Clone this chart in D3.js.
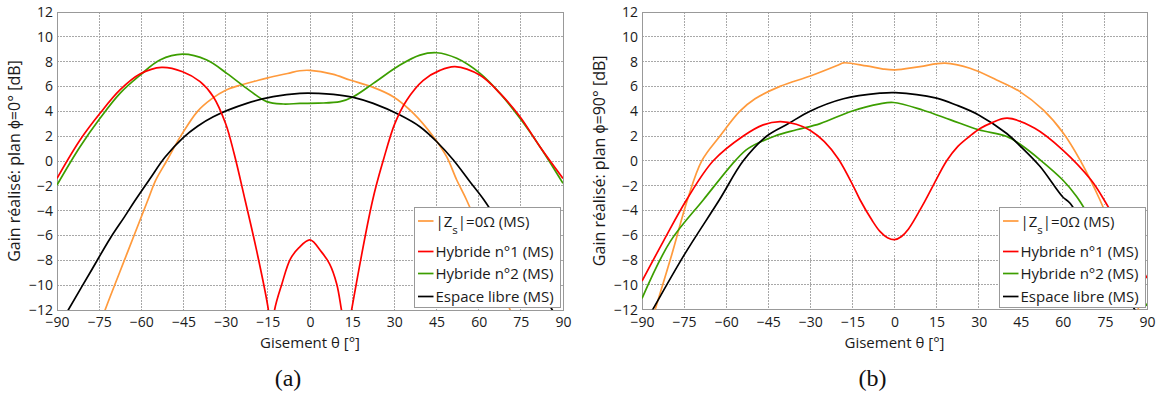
<!DOCTYPE html>
<html><head><meta charset="utf-8">
<script src="https://cdn.jsdelivr.net/npm/d3@7/dist/d3.min.js"></script>
<style>body{margin:0;background:#fff}svg{display:block}text{font-family:"Open Sans",sans-serif}</style>
</head><body><svg id="c" width="1162" height="396"></svg>
<script>
// ---- ticks ----
const xTicks = [-90,-75,-60,-45,-30,-15,0,15,30,45,60,75,90];
const yTicks = [-12,-10,-8,-6,-4,-2,0,2,4,6,8,10,12];
const seriesNames = ["|Zs|=0Ω (MS)","Hybride n°1 (MS)","Hybride n°2 (MS)","Espace libre (MS)"];
const seriesColors = ["#ff9a3c","#ff0000","#3c9e00","#000000"];

// ---- panel (a) : plan phi = 0° ----
const a_zs_theta = [-76,-72.9,-65,-57.6,-55,-51,-46,-40,-35,-30,-25,-20,-15,-8,-3.6,0,8,14.2,22.5,29.6,36.8,43.9,48.6,52.2,55.7,60,65,71.2,75];
const a_zs_gain  = [-14,-12,-7.4,-3.1,-1.6,0,2,4,5,5.7,6.1,6.4,6.7,7.05,7.27,7.3,7.0,6.52,5.93,5.18,3.84,1.96,0.35,-1.53,-3.14,-5.4,-8.4,-12,-14.3];
const a_h1_theta = [-90,-81.8,-74.7,-67.6,-60.5,-52.8,-45.3,-39.1,-34.4,-30,-27,-23.1,-19,-14.8,-13.7,-12.6,-10,-7,-4,0,4,7,9.5,11.2,13,14.8,22.3,26.1,30.2,34.4,40.3,46.2,51.6,60.5,67.6,74.7,81.8,90];
const a_h1_gain  = [-1.4,1.69,3.84,5.72,7.0,7.54,7.19,6.39,5.18,3.0,0.6,-3.14,-7.2,-12,-14.5,-12,-9.9,-7.9,-7.0,-6.36,-7.3,-8.3,-9.9,-12,-14.5,-12,-3.14,0.08,3.03,4.9,6.5,7.3,7.6,6.9,5.45,3.57,1.15,-1.4];
const a_h2_theta = [-90,-81.8,-74.7,-67.6,-60.5,-53.4,-45.3,-36.7,-29.6,-22.5,-15.4,-9.5,-3.6,3,10.7,15.4,22.5,32,39.1,45.1,52.2,60.5,67.6,74.7,81.8,90];
const a_h2_gain  = [-1.93,1.15,3.44,5.45,6.9,8.13,8.6,8.13,7.06,5.85,4.78,4.59,4.64,4.66,4.78,5.18,6.25,7.73,8.53,8.72,8.27,7.06,5.45,3.44,1.15,-1.8];
const a_el_theta = [-90,-86,-78,-71,-66,-62.3,-57,-51.6,-45,-40,-34.4,-22.5,-13.1,-3.6,3,8.3,15.4,22.5,32,39.1,45.1,51,56.9,61.9,70,78,85.4,90];
const a_el_gain  = [-13.6,-12,-8.9,-6.2,-4.5,-3.2,-1.45,0.3,1.9,2.8,3.57,4.64,5.18,5.45,5.45,5.37,5.13,4.64,3.7,2.76,1.55,0.08,-1.67,-3.14,-6.0,-8.9,-11.7,-13.4];

// ---- panel (b) : plan phi = 90° ----
const b_zs_theta = [-90,-85.3,-79.4,-73.8,-68.7,-62.2,-55.1,-49.7,-40.8,-30,-20,-18.2,-10,-4,0.2,9.1,18,26.9,36.4,44.7,53,60.2,66.1,73.2,78,83,87,90];
const b_zs_gain  = [-15.5,-12,-7.57,-3.14,0,2,4,5,6,6.84,7.73,7.9,7.65,7.4,7.33,7.6,7.87,7.46,6.52,5.58,4.1,2.23,0.08,-3.14,-5.8,-9,-12,-14];
const b_h1_theta = [-90,-82.4,-74.1,-64.6,-53.9,-46.8,-40.8,-35,-30,-25,-20,-15,-12.3,-8,-5.2,-2.5,0,2.5,5,10,14,18.6,22.5,26.9,30.5,34.6,40.2,50,59.9,70,75.1,82,90];
const b_h1_gain  = [-9.7,-6.5,-3.14,0,2,2.9,3.16,2.95,2.45,1.55,0.15,-1.9,-3.14,-4.8,-5.69,-6.2,-6.36,-6.1,-5.5,-3.6,-1.9,0,1.15,2.0,2.6,3.06,3.44,2.63,0.89,-1.53,-3.3,-6.1,-9.45];
const b_h2_theta = [-90,-79.9,-68.1,-56.8,-52.1,-42.6,-34.9,-26.5,-15.3,-5.2,-0.4,10,20,30,40,45,51.9,59.9,64.9,67.3,75,82,90];
const b_h2_gain  = [-11.1,-6.5,-3.14,0,1,2,2.5,3,4,4.59,4.7,4.1,3.3,2.5,1.96,1.29,0.08,-1.53,-2.87,-3.7,-6.2,-8.7,-11.7];
const b_el_theta = [-90,-86.2,-74.9,-62.4,-53.9,-45.5,-37.8,-30.1,-18.2,-5.2,0.2,15,22,30,40,45,51.9,59.9,62.5,70,78,85.1,90];
const b_el_gain  = [-13.5,-12,-7.57,-3.14,0,2,3,4,5,5.45,5.5,5.05,4.5,3.7,2.2,1.15,-0.46,-2.9,-3.4,-6.1,-9.0,-11.8,-13.6];

const panels = [
  {id:"a", left:57, right:563, top:12, bottom:310, ylabel:"Gain réalisé: plan ϕ=0° [dB]", caption:"(a)",
   series:[[a_zs_theta,a_zs_gain],[a_h1_theta,a_h1_gain],[a_h2_theta,a_h2_gain],[a_el_theta,a_el_gain]],
   legend:{x0:414.5,x1:560,y0:207,y1:307}},
  {id:"b", left:642, right:1147, top:12, bottom:309.6, ylabel:"Gain réalisé: plan ϕ=90° [dB]", caption:"(b)",
   series:[[b_zs_theta,b_zs_gain],[b_h1_theta,b_h1_gain],[b_h2_theta,b_h2_gain],[b_el_theta,b_el_gain]],
   legend:{x0:999.5,x1:1145.5,y0:207,y1:307}}
];

const svg = d3.select("#c");
panels.forEach(p => {
  const x = d3.scaleLinear().domain([-90,90]).range([p.left,p.right]);
  const y = d3.scaleLinear().domain([-12,12]).range([p.bottom,p.top]);
  const g = svg.append("g");
  // grid
  g.append("g").selectAll("line").data(xTicks.slice(1,-1)).join("line")
    .attr("x1",d=>x(d)).attr("x2",d=>x(d)).attr("y1",p.top).attr("y2",p.bottom)
    .attr("stroke","#a8a8a8").attr("stroke-width",1).attr("stroke-dasharray","1.5,1.5").attr("shape-rendering","crispEdges");
  g.append("g").selectAll("line").data(yTicks.slice(1,-1)).join("line")
    .attr("y1",d=>y(d)).attr("y2",d=>y(d)).attr("x1",p.left).attr("x2",p.right)
    .attr("stroke","#a8a8a8").attr("stroke-width",1).attr("stroke-dasharray","1.5,1.5").attr("shape-rendering","crispEdges");
  // axes
  const xa = g.append("g").attr("transform",`translate(0,${p.bottom})`)
    .call(d3.axisBottom(x).tickValues(xTicks).tickSize(0).tickPadding(7).tickFormat(d3.format("d")));
  const ya = g.append("g").attr("transform",`translate(${p.left},0)`)
    .call(d3.axisLeft(y).tickValues(yTicks).tickSize(0).tickPadding(4).tickFormat(d3.format("d")));
  [xa,ya].forEach(a=>{a.select(".domain").remove(); a.selectAll("text").attr("font-size",14).attr("fill","#1a1a1a").style("font-family","'Open Sans',sans-serif");});
  xa.selectAll("text").attr("dy","0.71em");
  // frame
  g.append("rect").attr("x",p.left).attr("y",p.top).attr("width",p.right-p.left).attr("height",p.bottom-p.top)
    .attr("fill","none").attr("stroke","#999").attr("stroke-width",1).attr("shape-rendering","crispEdges");
  // clip
  svg.append("clipPath").attr("id","clip"+p.id).append("rect")
    .attr("x",p.left).attr("y",p.top).attr("width",p.right-p.left).attr("height",p.bottom-p.top);
  const line = d3.line().x(d=>x(d[0])).y(d=>y(d[1])).curve(d3.curveCatmullRom.alpha(0.5));
  const cg = g.append("g").attr("clip-path",`url(#clip${p.id})`);
  [0,2,3,1].forEach(i=>{
    const [th,gn] = p.series[i];
    cg.append("path").datum(th.map((t,k)=>[t,gn[k]])).attr("d",line)
      .attr("fill","none").attr("stroke",seriesColors[i]).attr("stroke-width",1.7).attr("stroke-linejoin","round");
  });
  // labels
  g.append("text").attr("x",(p.left+p.right)/2).attr("y",347.5).attr("text-anchor","middle")
    .attr("font-size",15).attr("fill","#1a1a1a").text("Gisement θ [°]");
  g.append("text").attr("transform",`translate(${p.left-37},${(p.top+p.bottom)/2}) rotate(-90)`)
    .attr("text-anchor","middle").attr("font-size",16).attr("fill","#1a1a1a").text(p.ylabel);
  g.append("text").attr("x",(p.left+p.right)/2-22).attr("y",386).attr("text-anchor","middle")
    .attr("font-size",24).style("font-family","'Liberation Serif','DejaVu Serif',serif").attr("fill","#111").text(p.caption);
  // legend
  const L = p.legend;
  g.append("rect").attr("x",L.x0).attr("y",L.y0).attr("width",L.x1-L.x0).attr("height",L.y1-L.y0)
    .attr("fill","#fff").attr("stroke","#999").attr("stroke-width",1).attr("shape-rendering","crispEdges");
  const rows = [221,251.5,273.5,296.5];
  seriesNames.forEach((nm,i)=>{
    g.append("line").attr("x1",L.x0+3.5).attr("x2",L.x0+19).attr("y1",rows[i]).attr("y2",rows[i])
      .attr("stroke",seriesColors[i]).attr("stroke-width",1.7);
    const t = g.append("text").attr("x",L.x0+21).attr("y",rows[i]+5.5).attr("font-size",15).attr("fill","#1a1a1a");
    if(i===0){
      t.append("tspan").text("|Z");
      t.append("tspan").attr("font-size",11.5).attr("dy",7).text("s");
      t.append("tspan").attr("dy",-7).text("|=0Ω (MS)");
    } else t.text(nm);
  });
});
</script></body></html>
